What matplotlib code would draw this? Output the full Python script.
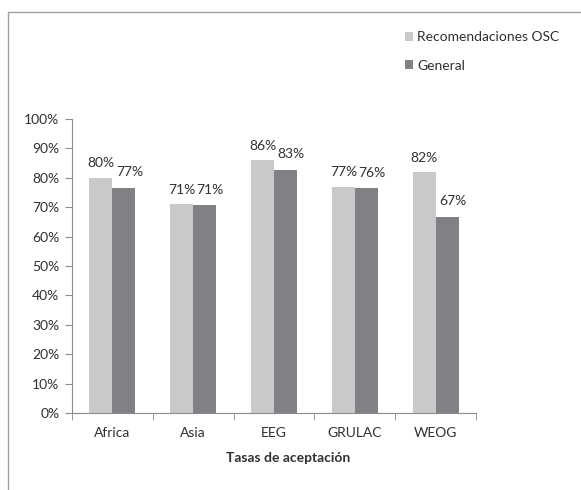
import numpy as np
import matplotlib.pyplot as plt
from matplotlib.patches import Rectangle
from matplotlib.ticker import MultipleLocator, FixedLocator, PercentFormatter

plt.rcParams['font.family'] = ['Lato', 'DejaVu Sans']

#========== DATA ==========#

regiones = ["Africa", "Asia", "EEG", "GRULAC", "WEOG"]
recomendaciones_osc = [80.0, 71.0, 86.0, 77.0, 82.0]
general = [76.7, 70.6, 82.6, 76.4, 66.6]
series_names = ["Recomendaciones OSC", "General"]

LIGHT = "#c8c9cb"
DARK = "#808185"
TEXT = "#303030"
AXIS = "#8c8c8c"
FS = 10

#========== PLOT ==========#

fig = plt.figure(figsize=(5.81, 4.9), dpi=100)
ax = fig.add_axes([72/581, 1-413/490, (476-72)/581, (413-119)/490])

x = np.arange(len(regiones))
width = 0.284
b1 = ax.bar(x - width/2, recomendaciones_osc, width, color=LIGHT, label=series_names[0])
b2 = ax.bar(x + width/2, general, width, color=DARK, label=series_names[1])

for rect, val in zip(b1, recomendaciones_osc):
    ax.annotate("%d%%" % round(val), (rect.get_x() + rect.get_width()/2, val),
                xytext=(0, 6), textcoords="offset points",
                ha="center", va="bottom", fontsize=FS, color=TEXT)
for rect, val in zip(b2, general):
    ax.annotate("%d%%" % round(val), (rect.get_x() + rect.get_width()/2, val),
                xytext=(4, 7), textcoords="offset points",
                ha="center", va="bottom", fontsize=FS, color=TEXT)

ax.set_xlim(-0.5, len(regiones) - 0.5)
ax.set_ylim(0, 100)
ax.yaxis.set_major_locator(MultipleLocator(10))
ax.yaxis.set_major_formatter(PercentFormatter(decimals=0))
ax.set_xticks(x)
ax.set_xticklabels(regiones)
ax.xaxis.set_minor_locator(FixedLocator(np.arange(-0.5, len(regiones), 1)))
ax.tick_params(axis="x", which="major", length=0, pad=10, labelsize=FS, colors=TEXT)
ax.tick_params(axis="x", which="minor", length=5, color=AXIS)
ax.tick_params(axis="y", length=5, color=AXIS, labelsize=FS, labelcolor=TEXT, pad=4)

for side in ("top", "right"):
    ax.spines[side].set_visible(False)
for side in ("left", "bottom"):
    ax.spines[side].set_color(AXIS)

ax.set_xlabel("Tasas de aceptación", fontsize=FS, fontweight="bold", color=TEXT)
ax.xaxis.set_label_coords((288-72)/(476-72), -(452-413)/(413-119))

fig.legend(handles=[b1, b2], loc="upper left", bbox_to_anchor=(405/581, 1-31/490),
           frameon=False, fontsize=FS, labelspacing=1.2, handlelength=0.6,
           handleheight=0.6, handletextpad=0.3, borderpad=0, borderaxespad=0,
           labelcolor=TEXT)

# cadre du graphique
fig.patches.append(Rectangle((8/581, -0.1), 1.2, 1.1 - 12/490, transform=fig.transFigure,
                             fill=False, edgecolor="#a0a0a0", linewidth=1.0))

fig.savefig("out.png", dpi=100)
